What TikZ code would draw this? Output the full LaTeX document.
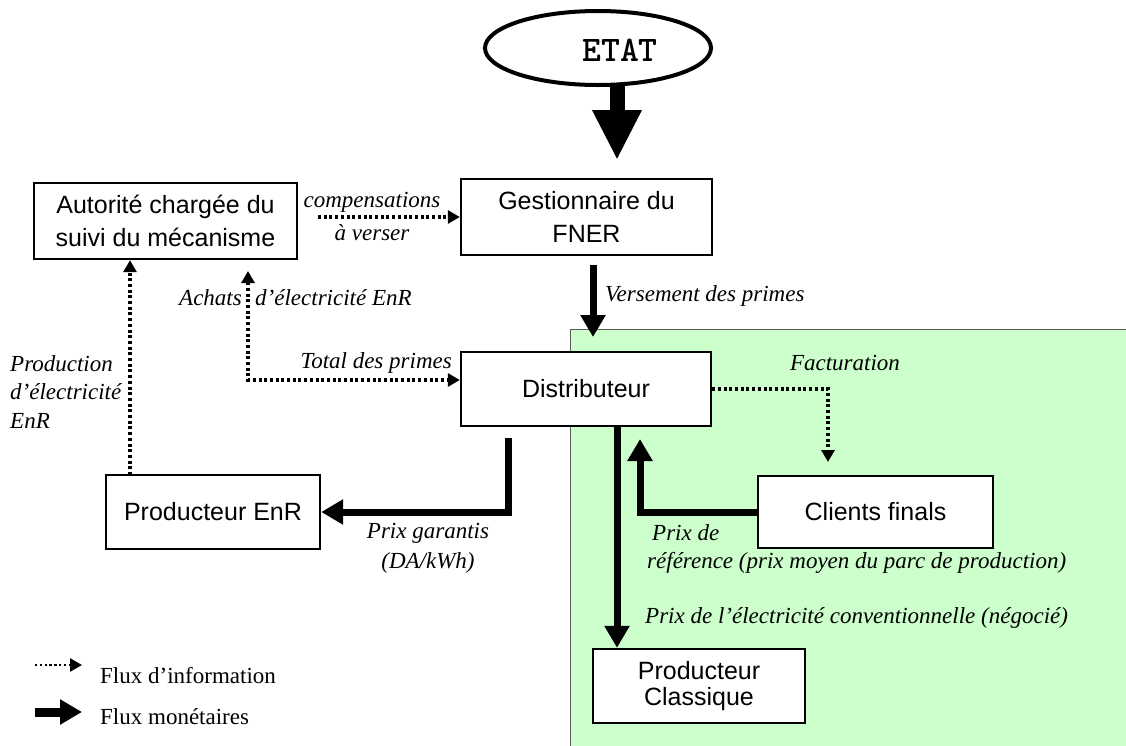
\documentclass[tikz,border=0pt]{standalone}
\usepackage{fontspec}
\setmainfont{Liberation Serif}
\setsansfont{Liberation Sans}
\usetikzlibrary{arrows.meta,shapes.geometric}
\definecolor{zonegreen}{RGB}{204,255,204}
\definecolor{zoneedge}{RGB}{90,90,90}

\begin{document}
\begin{tikzpicture}[x=1pt,y=-1pt,
  box/.style={draw, line width=2.4pt, fill=white, inner sep=0pt, align=center,
    font=\sffamily\fontsize{25}{33}\selectfont},
  lab/.style={inner sep=0pt, font=\itshape\fontsize{23}{28.5}\selectfont},
  legtext/.style={inner sep=0pt, anchor=west, font=\fontsize{23}{28}\selectfont},
  info/.style={line width=3.2pt, dash pattern=on 3pt off 2.7pt,
    -{Triangle[length=12pt,width=13pt]}},
  money/.style={line width=7pt, -{Triangle[length=22pt,width=24pt]}},
  bigarrow/.style={line width=15pt, -{Triangle[length=50pt,width=46pt]}}]

\useasboundingbox (0,0) rectangle (1126,745);
\fill[white] (0,0) rectangle (1126,745);

% shaded area around the distribution side
\draw[fill=zonegreen, draw=zoneedge, line width=1pt] (570,329) rectangle (1130,750);

% actors
\node[draw, ellipse, line width=4pt, minimum width=226pt, minimum height=74pt] (etat) at (598,48) {};
\node[inner sep=0pt, font=\ttfamily\bfseries\fontsize{36}{36}\selectfont] (etattxt) at (620,50) {ETAT};

\node[box, minimum width=263pt, minimum height=76pt] (autorite) at (165.5,221) {Autorité chargée du\\suivi du mécanisme};
\node[box, minimum width=251pt, minimum height=76pt] (gest) at (586.5,217) {Gestionnaire du\\FNER};
\node[box, minimum width=250pt, minimum height=74pt] (distrib) at (586,389) {Distributeur};
\node[box, minimum width=214pt, minimum height=74pt] (prodenr) at (213,512) {Producteur EnR};
\node[box, minimum width=235pt, minimum height=72pt] (clients) at (875.5,512) {Clients finals};
\node[box, minimum width=212pt, minimum height=74pt, font=\sffamily\fontsize{25}{26}\selectfont] (classique) at (699,686) {Producteur\\Classique};

% connector end points
\coordinate (etatfoot) at (617,85);
\coordinate (gesthead) at (617,160);
\coordinate (compstart) at (318,217);
\coordinate (versA) at (593,265);
\coordinate (versB) at (593,337);
\coordinate (achtop) at (248,271);
\coordinate (achcorner) at (248,380);
\coordinate (prodbase) at (130,475);
\coordinate (garA) at (508,438);
\coordinate (garB) at (508,512);
\coordinate (classA) at (617,427);
\coordinate (cliC) at (640,512);
\coordinate (cliTip) at (640,439);
\coordinate (factC) at (828,389);
\coordinate (factTip) at (828,462);

% flows
\draw[bigarrow] (etatfoot) -- (gesthead);
\draw[info] (compstart) -- (gest.west);
\draw[money] (versA) -- (versB);
\draw[info, {Triangle[length=12pt,width=13pt]}-{Triangle[length=12pt,width=13pt]}]
  (achtop) -- (achcorner) -- (distrib.west |- achcorner);
\draw[info] (prodbase) -- (autorite.south -| prodbase);
\draw[money] (garA) -- (garB) -- (prodenr.east);
\draw[money] (classA) -- (classique.north -| classA);
\draw[money] (clients.west) -- (cliC) -- (cliTip);
\draw[info] (distrib.east) -- (factC) -- (factTip);

% flow labels
\node[lab] (comp1) at (372,202) {compensations};
\node[lab] (comp2) at (372,233) {à verser};
\node[lab, anchor=west] (versement) at (605,296) {Versement des primes};
\node[lab, anchor=east] (achats) at (242,298) {Achats};
\node[lab, anchor=west] (achats2) at (255,298) {d’électricité EnR};
\node[lab, anchor=east] (total) at (452,363) {Total des primes};
\node[lab, anchor=west, align=left] (production) at (10,392) {Production\\d’électricité\\EnR};
\node[lab] (facturation) at (845,363) {Facturation};
\node[lab] (garantis1) at (428,533) {Prix garantis};
\node[lab] (garantis2) at (428,563) {(DA/kWh)};
\node[lab, anchor=west] (ref1) at (652,533) {Prix de};
\node[lab, anchor=west] (ref2) at (647,563) {référence (prix moyen du parc de production)};
\node[lab, anchor=west] (conv) at (645,618) {Prix de l’électricité conventionnelle (négocié)};

% legend
\coordinate (li0) at (35,665);
\coordinate (li1) at (82,665);
\coordinate (lm0) at (35,712);
\coordinate (lm1) at (82,712);
\draw[info, line width=2.4pt, dash pattern=on 2.4pt off 2.4pt] (li0) -- (li1);
\draw[money, line width=9pt] (lm0) -- (lm1);
\node[legtext] (leginfo) at (100,676) {Flux d’information};
\node[legtext] (legmoney) at (100,717) {Flux monétaires};
\end{tikzpicture}
\end{document}
